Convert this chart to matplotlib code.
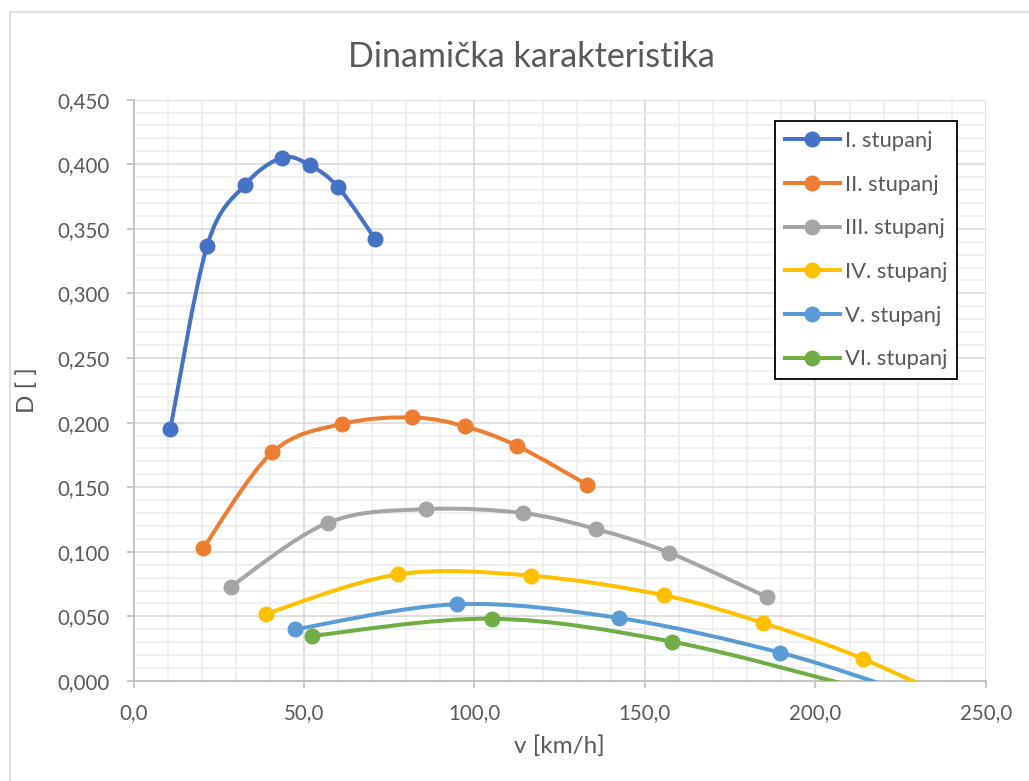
import numpy as np
import matplotlib
matplotlib.use('Agg')
import matplotlib.pyplot as plt
from matplotlib.path import Path
from matplotlib.patches import PathPatch
from matplotlib.lines import Line2D
from matplotlib.ticker import MultipleLocator, FuncFormatter

plt.rcParams['font.family'] = ['Lato', 'DejaVu Sans']

# Data (speed v in km/h, dynamic factor D)
labels = ['I. stupanj', 'II. stupanj', 'III. stupanj', 'IV. stupanj', 'V. stupanj', 'VI. stupanj']
colors = ['#4472C4', '#ED7D31', '#A5A5A5', '#FFC000', '#5B9BD5', '#70AD47']

v_1 = [10.8, 21.6, 32.7, 43.6, 51.8, 60.1, 70.9]
d_1 = [0.195, 0.337, 0.384, 0.405, 0.399, 0.382, 0.342]
v_2 = [20.5, 40.7, 61.2, 81.8, 97.2, 112.5, 133.0]
d_2 = [0.103, 0.177, 0.199, 0.204, 0.197, 0.182, 0.152]
v_3 = [28.5, 57.0, 85.7, 114.1, 135.6, 157.1, 185.7]
d_3 = [0.073, 0.1225, 0.133, 0.130, 0.1176, 0.0993, 0.065]
v_4 = [38.8, 77.7, 116.6, 155.6, 184.6, 213.8, 252.8]
d_4 = [0.052, 0.0826, 0.0815, 0.0663, 0.0449, 0.0173, -0.030]
v_5 = [47.4, 94.8, 142.3, 189.7, 225.8]
d_5 = [0.040, 0.0594, 0.0488, 0.0219, -0.008]
v_6 = [52.4, 105.2, 158.0, 210.8]
d_6 = [0.035, 0.0482, 0.0304, -0.004]

series_v = [v_1, v_2, v_3, v_4, v_5, v_6]
series_d = [d_1, d_2, d_3, d_4, d_5, d_6]

X_MAX = 250
Y_MAX = 0.45


def smooth_path(x, y):
    # Excel-like smoothed line: cubic Bezier segments (Catmull-Rom control points)
    p = np.column_stack([x, y])
    ext = np.vstack([p[0], p, p[-1]])
    verts = [p[0]]
    codes = [Path.MOVETO]
    for i in range(len(p) - 1):
        c1 = ext[i + 1] + (ext[i + 2] - ext[i]) / 6
        c2 = ext[i + 2] - (ext[i + 3] - ext[i + 1]) / 6
        verts += [c1, c2, p[i + 1]]
        codes += [Path.CURVE4] * 3
    return Path(verts, codes)


fig = plt.figure(figsize=(10.29, 7.81), dpi=100)
ax = fig.add_axes([133.5 / 1029, 1 - 681 / 781, (986 - 133.5) / 1029, (681 - 99.6) / 781])

for v, d, c in zip(series_v, series_d, colors):
    ax.add_patch(PathPatch(smooth_path(v, d), facecolor='none', edgecolor=c,
                           lw=2.9, capstyle='round', joinstyle='round', zorder=3))
    v = np.array(v)
    d = np.array(d)
    inside = (d >= 0) & (v <= X_MAX)
    ax.plot(v[inside], d[inside], 'o', color=c, markersize=10.5, zorder=4)

ax.set_xlim(0, X_MAX)
ax.set_ylim(0, Y_MAX)
ax.xaxis.set_major_locator(MultipleLocator(50))
ax.xaxis.set_minor_locator(MultipleLocator(10))
ax.yaxis.set_major_locator(MultipleLocator(0.05))
ax.yaxis.set_minor_locator(MultipleLocator(0.01))
ax.xaxis.set_major_formatter(FuncFormatter(lambda val, pos: f'{val:.1f}'.replace('.', ',')))
ax.yaxis.set_major_formatter(FuncFormatter(lambda val, pos: f'{val:.3f}'.replace('.', ',')))

ax.grid(which='major', color='#D9D9D9', lw=1.2)
ax.grid(which='minor', color='#EDEDED', lw=1.2)
ax.set_axisbelow(True)

for side in ['top', 'right']:
    ax.spines[side].set_visible(False)
for side in ['left', 'bottom']:
    ax.spines[side].set_color('#BFBFBF')
    ax.spines[side].set_linewidth(1.3)

ax.tick_params(which='major', direction='out', length=4.8, width=1.2, color='#BFBFBF',
               labelcolor='#595959', labelsize=14.8)
ax.tick_params(axis='y', pad=12.5)
ax.tick_params(axis='x', pad=11)
ax.tick_params(which='minor', length=0)

ax.set_xlabel('v [km/h]', fontsize=17.5, color='#595959', labelpad=9)
ax.set_ylabel('D [ ]', fontsize=17.5, color='#595959', labelpad=14)

fig.text(531.5 / 1029, 1 - 57 / 781, 'Dinamička karakteristika', fontsize=24.5,
         color='#595959', ha='center', va='center')

handles = [Line2D([], [], color=c, lw=2.9, marker='o', markersize=10.5) for c in colors]
leg = ax.legend(handles, labels, loc='upper left',
                bbox_to_anchor=(775 / 1029, 1 - 121 / 781), bbox_transform=fig.transFigure,
                fontsize=15.8, frameon=True, fancybox=False, framealpha=1,
                edgecolor='black', borderpad=0.45, labelspacing=1.08,
                handlelength=2.5, handletextpad=0.25, borderaxespad=0)
leg.get_frame().set_linewidth(1.3)
for t in leg.get_texts():
    t.set_color('#595959')

# chart area border (only the left and top edges are visible in the frame)
fig.add_artist(Line2D([9.5 / 1029, 9.5 / 1029], [0, 1 - 12 / 781], color='#D9D9D9', lw=1.2,
                      transform=fig.transFigure))
fig.add_artist(Line2D([9.5 / 1029, 1], [1 - 12 / 781, 1 - 12 / 781], color='#D9D9D9', lw=1.2,
                      transform=fig.transFigure))

fig.savefig('out.png', dpi=100)
